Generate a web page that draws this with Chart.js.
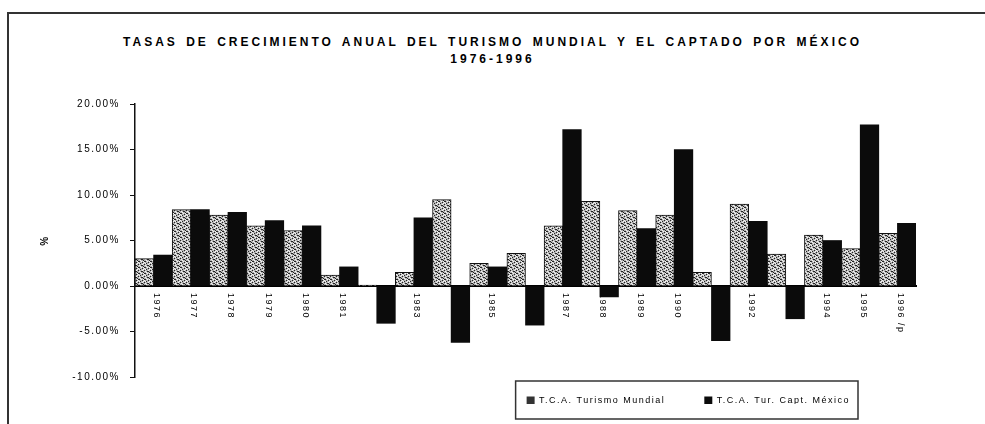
<!DOCTYPE html>
<html>
<head>
<meta charset="utf-8">
<script src="https://cdn.jsdelivr.net/npm/chart.js@4.4.1/dist/chart.umd.min.js"></script>
<style>
    html, body { margin: 0; padding: 0; background: #fff; }
    #wrap { position: relative; width: 985px; height: 424px; overflow: hidden; }
    #frame { position: absolute; left: 7px; top: 12px; width: 990px; height: 420px;
             border-left: 2px solid #333; border-top: 2px solid #333; }
    .ttl { position: absolute; left: 0; width: 985px; text-align: center;
           font: bold 12px Arial, 'Liberation Sans', sans-serif; color: #000;
           letter-spacing: 3px; word-spacing: 2px; }
    #chart { position: absolute; left: 0; top: 0; }
</style>
</head>
<body>
<div id="wrap">
    <div id="frame"></div>
    <div class="ttl" style="top: 35px;">TASAS DE CRECIMIENTO ANUAL DEL TURISMO MUNDIAL Y EL CAPTADO POR MÉXICO</div>
    <div class="ttl" style="top: 52px;">1976-1996</div>
    <canvas id="chart" width="985" height="424"></canvas>
</div>
<script>
// Data (annual growth rates, %)
const years = ['1976', '1977', '1978', '1979', '1980', '1981', '1982', '1983', '1984', '1985', '1986',
               '1987', '1988', '1989', '1990', '1991', '1992', '1993', '1994', '1995', '1996 /p'];
const turismoMundial = [3.0, 8.4, 7.8, 6.6, 6.1, 1.2, 0.1, 1.5, 9.5, 2.5, 3.6,
                        6.6, 9.3, 8.3, 7.8, 1.5, 9.0, 3.5, 5.6, 4.1, 5.8];
const turCaptMexico = [3.4, 8.4, 8.1, 7.2, 6.6, 2.1, -4.1, 7.5, -6.2, 2.1, -4.3,
                       17.2, -1.2, 6.3, 15.0, -6.0, 7.1, -3.6, 5.0, 17.7, 6.9];
const seriesNames = ['T.C.A. Turismo Mundial', 'T.C.A. Tur. Capt. México'];
const yTicks = { min: -10, max: 20, step: 5 };

const canvas = document.getElementById('chart');
const ctx = canvas.getContext('2d');

// stippled grey like the printed original
function makeStipple() {
    const c = document.createElement('canvas');
    c.width = 6; c.height = 6;
    const g = c.getContext('2d');
    g.fillStyle = '#b4b4b4';
    g.fillRect(0, 0, 6, 6);
    g.fillStyle = '#222';
    [[0, 0], [3, 1], [1, 3], [4, 4], [5, 2], [2, 5], [0, 3], [4, 1]].forEach(([x, y]) => g.fillRect(x, y, 1, 1));
    g.fillStyle = '#f4f4f4';
    [[1, 1], [4, 0], [0, 4], [3, 3], [5, 5], [2, 2], [1, 5], [5, 3]].forEach(([x, y]) => g.fillRect(x, y, 1, 1));
    return ctx.createPattern(c, 'repeat');
}
const stipple = makeStipple();

const FONT = "Arial, 'Liberation Sans', sans-serif";

// spaced-out lettering of the print
const spacingPlugin = {
    id: 'spacing',
    beforeLayout(chart) { chart.ctx.letterSpacing = '1.5px'; },
    beforeDraw(chart) { chart.ctx.letterSpacing = '1.5px'; }
};

// year labels written downwards just under the zero line (hidden by negative bars)
const yearLabels = {
    id: 'yearLabels',
    beforeDatasetsDraw(chart) {
        const x = chart.scales.x, y = chart.scales.y;
        const c = chart.ctx;
        const y0 = y.getPixelForValue(0) + 7;
        c.save();
        c.font = '9px ' + FONT;
        c.fillStyle = '#000';
        c.textAlign = 'left';
        c.textBaseline = 'middle';
        years.forEach((lab, i) => {
            c.save();
            c.translate(x.getPixelForValue(i) + 3, y0);
            c.rotate(Math.PI / 2);
            c.fillText(lab, 0, 0);
            c.restore();
        });
        c.restore();
    }
};

// move the legend to the lower right and frame it
const legendBox = {
    id: 'legendBox',
    afterLayout(chart) {
        const lg = chart.legend;
        lg.top -= 20;
        lg.bottom -= 20;
        lg.right = chart.chartArea.right - 27;
    },
    afterDraw(chart) {
        const boxes = chart.legend.legendHitBoxes;
        if (!boxes || !boxes.length) return;
        const l = Math.min(...boxes.map(b => b.left)) - 11;
        const r = Math.max(...boxes.map(b => b.left + b.width)) + 8;
        const t = Math.min(...boxes.map(b => b.top)) - 15;
        const bt = Math.max(...boxes.map(b => b.top + b.height)) + 14;
        const c = chart.ctx;
        c.save();
        c.strokeStyle = '#333';
        c.lineWidth = 1.5;
        c.strokeRect(l, t, r - l, bt - t);
        c.restore();
    }
};

new Chart(ctx, {
    type: 'bar',
    data: {
        labels: years,
        datasets: [{
            label: seriesNames[0],
            data: turismoMundial,
            backgroundColor: stipple,
            borderColor: '#111',
            borderWidth: 1
        }, {
            label: seriesNames[1],
            data: turCaptMexico,
            backgroundColor: '#0b0b0b',
            borderColor: '#0b0b0b',
            borderWidth: 0
        }]
    },
    options: {
        responsive: false,
        animation: false,
        devicePixelRatio: 1,
        layout: { padding: { top: 104, left: 20, right: 69, bottom: 0 } },
        datasets: { bar: { categoryPercentage: 1.0, barPercentage: 1.0 } },
        scales: {
            x: {
                position: { y: 0 },
                grid: { display: false, drawTicks: false },
                ticks: { display: false },
                border: { display: true, color: '#000', width: 2 }
            },
            y: {
                min: yTicks.min,
                max: yTicks.max,
                afterFit: s => { s.width = 115; },
                ticks: {
                    stepSize: yTicks.step,
                    padding: 10,
                    color: '#000',
                    font: { family: FONT, size: 10 },
                    callback: v => v.toFixed(2) + '%'
                },
                grid: { drawOnChartArea: false, tickLength: 5, color: '#111', lineWidth: 1 },
                border: { display: true, color: '#111', width: 1.5 },
                title: {
                    display: true,
                    text: '%',
                    color: '#000',
                    font: { family: FONT, size: 10, weight: 'bold' },
                    padding: { top: 19, bottom: 0 }
                }
            }
        },
        plugins: {
            title: { display: false },
            tooltip: { enabled: false },
            legend: {
                position: 'bottom',
                align: 'end',
                fullSize: false,
                maxHeight: 47,
                labels: {
                    color: '#000',
                    font: { family: FONT, size: 9 },
                    boxWidth: 8,
                    boxHeight: 8,
                    padding: 39,
                    generateLabels: chart => Chart.defaults.plugins.legend.labels.generateLabels(chart)
                        .map((it, i) => Object.assign(it, { fillStyle: i === 0 ? '#333' : '#0b0b0b', lineWidth: 0 }))
                }
            }
        }
    },
    plugins: [spacingPlugin, yearLabels, legendBox]
});
</script>
</body>
</html>
